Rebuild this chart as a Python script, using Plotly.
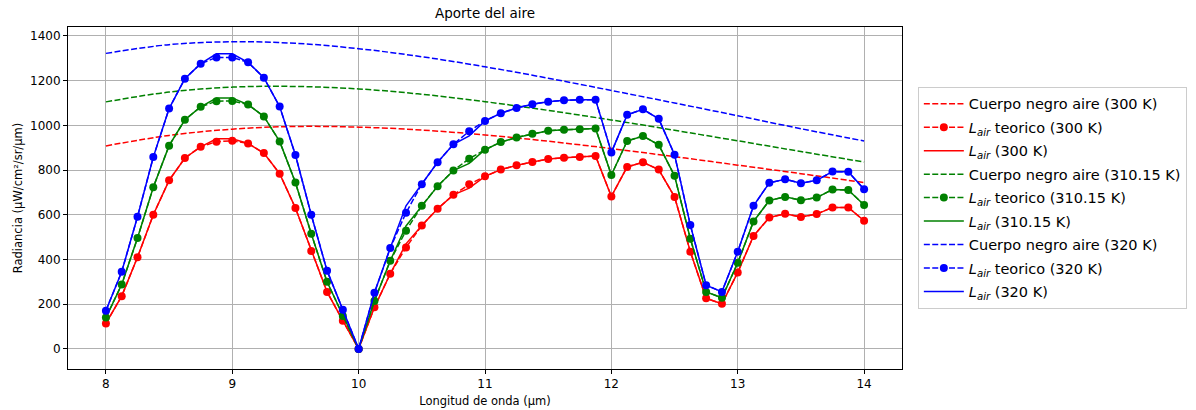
import numpy as np
import plotly.graph_objects as go

# wavelength grids (µm)
wl = np.arange(8.0, 14.0001, 0.125)
wl_bb = np.arange(8.0, 14.0001, 0.5)

temps = ["300", "310.15", "320"]
colors = ["red", "green", "blue"]

# blackbody radiance (µW/cm²/sr/µm)
bb_300 = [908, 955, 983, 995, 992, 979, 957, 929, 896, 860, 822, 784, 744]
bb_310 = [1105, 1149, 1171, 1174, 1163, 1139, 1106, 1067, 1024, 978, 931, 883, 836]
bb_320 = [1322, 1361, 1374, 1367, 1343, 1307, 1262, 1211, 1156, 1100, 1043, 985, 930]

# theoretical air contribution
teo_300 = [114, 236, 410, 600, 754, 854, 904, 927, 931, 919, 876, 784, 630, 438, 255, 126, 0,
           186, 336, 454, 552, 627, 689, 736, 772, 802, 821, 836, 849, 855, 858, 863, 682,
           814, 835, 802, 680, 435, 226, 202, 342, 505, 588, 604, 590, 603, 633, 633, 573]
teo_310 = [140, 288, 496, 723, 909, 1025, 1083, 1108, 1109, 1093, 1040, 928, 744, 515, 300, 147, 0,
           214, 394, 529, 640, 728, 798, 851, 891, 925, 946, 962, 976, 980, 983, 986, 778,
           930, 952, 913, 774, 493, 255, 229, 385, 570, 664, 680, 665, 677, 713, 711, 644]
teo_320 = [171, 345, 591, 858, 1075, 1209, 1276, 1304, 1304, 1282, 1213, 1084, 867, 600, 350, 175, 0,
           251, 451, 609, 737, 835, 915, 974, 1020, 1054, 1078, 1094, 1106, 1112, 1114, 1115, 879,
           1047, 1072, 1029, 869, 554, 285, 255, 435, 640, 743, 759, 741, 754, 793, 792, 714]

# computed air contribution
lair_300 = [114, 236, 410, 600, 754, 854, 904, 940, 940, 919, 876, 784, 630, 438, 255, 126, 0,
            186, 336, 470, 552, 627, 689, 719, 772, 802, 821, 836, 849, 855, 858, 863, 682,
            814, 835, 802, 680, 435, 226, 202, 342, 505, 588, 604, 590, 603, 633, 633, 573]
lair_310 = [140, 288, 496, 723, 909, 1025, 1083, 1122, 1122, 1093, 1040, 928, 744, 515, 300, 147, 0,
            214, 394, 550, 640, 728, 798, 830, 891, 925, 946, 962, 976, 980, 983, 986, 778,
            930, 952, 913, 774, 493, 255, 229, 385, 570, 664, 680, 665, 677, 713, 711, 644]
lair_320 = [171, 345, 591, 858, 1075, 1209, 1276, 1320, 1320, 1282, 1213, 1084, 867, 600, 350, 175, 0,
            251, 451, 640, 737, 835, 915, 953, 1020, 1054, 1078, 1094, 1106, 1112, 1114, 1115, 879,
            1047, 1072, 1029, 869, 554, 285, 255, 435, 640, 743, 759, 741, 754, 793, 792, 714]

bbs = [bb_300, bb_310, bb_320]
teos = [teo_300, teo_310, teo_320]
lairs = [lair_300, lair_310, lair_320]

LAIR = "<i>L</i><sub><i>air</i></sub>"
DASH = "6px,2.4px"

fig = go.Figure()
g = 0
for T, c, bb, teo, la in zip(temps, colors, bbs, teos, lairs):
    fig.add_trace(go.Scatter(x=wl_bb, y=bb, mode="lines", line_shape="spline",
                             line=dict(color=c, width=1.5, dash=DASH),
                             legendgroup=f"g{g}", name=f"Cuerpo negro aire ({T} K)"))
    fig.add_trace(go.Scatter(x=wl, y=teo, mode="lines+markers",
                             line=dict(color=c, width=1.5, dash=DASH),
                             marker=dict(color=c, size=8),
                             legendgroup=f"g{g+1}", name=f"{LAIR} teorico ({T} K)"))
    fig.add_trace(go.Scatter(x=wl, y=la, mode="lines",
                             line=dict(color=c, width=1.5),
                             legendgroup=f"g{g+2}", name=f"{LAIR} ({T} K)"))
    g += 3

axis_common = dict(showline=True, linecolor="black", linewidth=1, mirror=True,
                   ticks="outside", ticklen=4, tickcolor="black", automargin=False,
                   showgrid=True, gridcolor="#b0b0b0", gridwidth=0.8,
                   zeroline=False, tickfont=dict(size=12, color="black"))

fig.update_layout(
    width=1196, height=410,
    margin=dict(l=68, r=294, t=27, b=41, autoexpand=False),
    paper_bgcolor="white", plot_bgcolor="white",
    font=dict(family="DejaVu Sans", color="black", size=12),
    title=dict(text="Aporte del aire", x=(68 + 902) / 2 / 1196, xanchor="center",
               y=1 - 13 / 410, yanchor="middle", font=dict(size=13.5)),
    xaxis=dict(range=[7.7, 14.3], dtick=1, tick0=8,
               title=dict(text="Longitud de onda (µm)", standoff=6, font=dict(size=11.5)),
               **axis_common),
    yaxis=dict(range=[-90, 1440], dtick=200, tick0=0,
               title=dict(text="Radiancia (µW/cm²/sr/µm)", standoff=5, font=dict(size=11.5)),
               **axis_common),
    legend=dict(x=1.019, xanchor="left", y=0.825, yanchor="top",
                bordercolor="#cccccc", borderwidth=1, bgcolor="white",
                font=dict(size=14.5), tracegroupgap=1.6, itemwidth=40),
    showlegend=True,
)

fig.write_html("out.html")
